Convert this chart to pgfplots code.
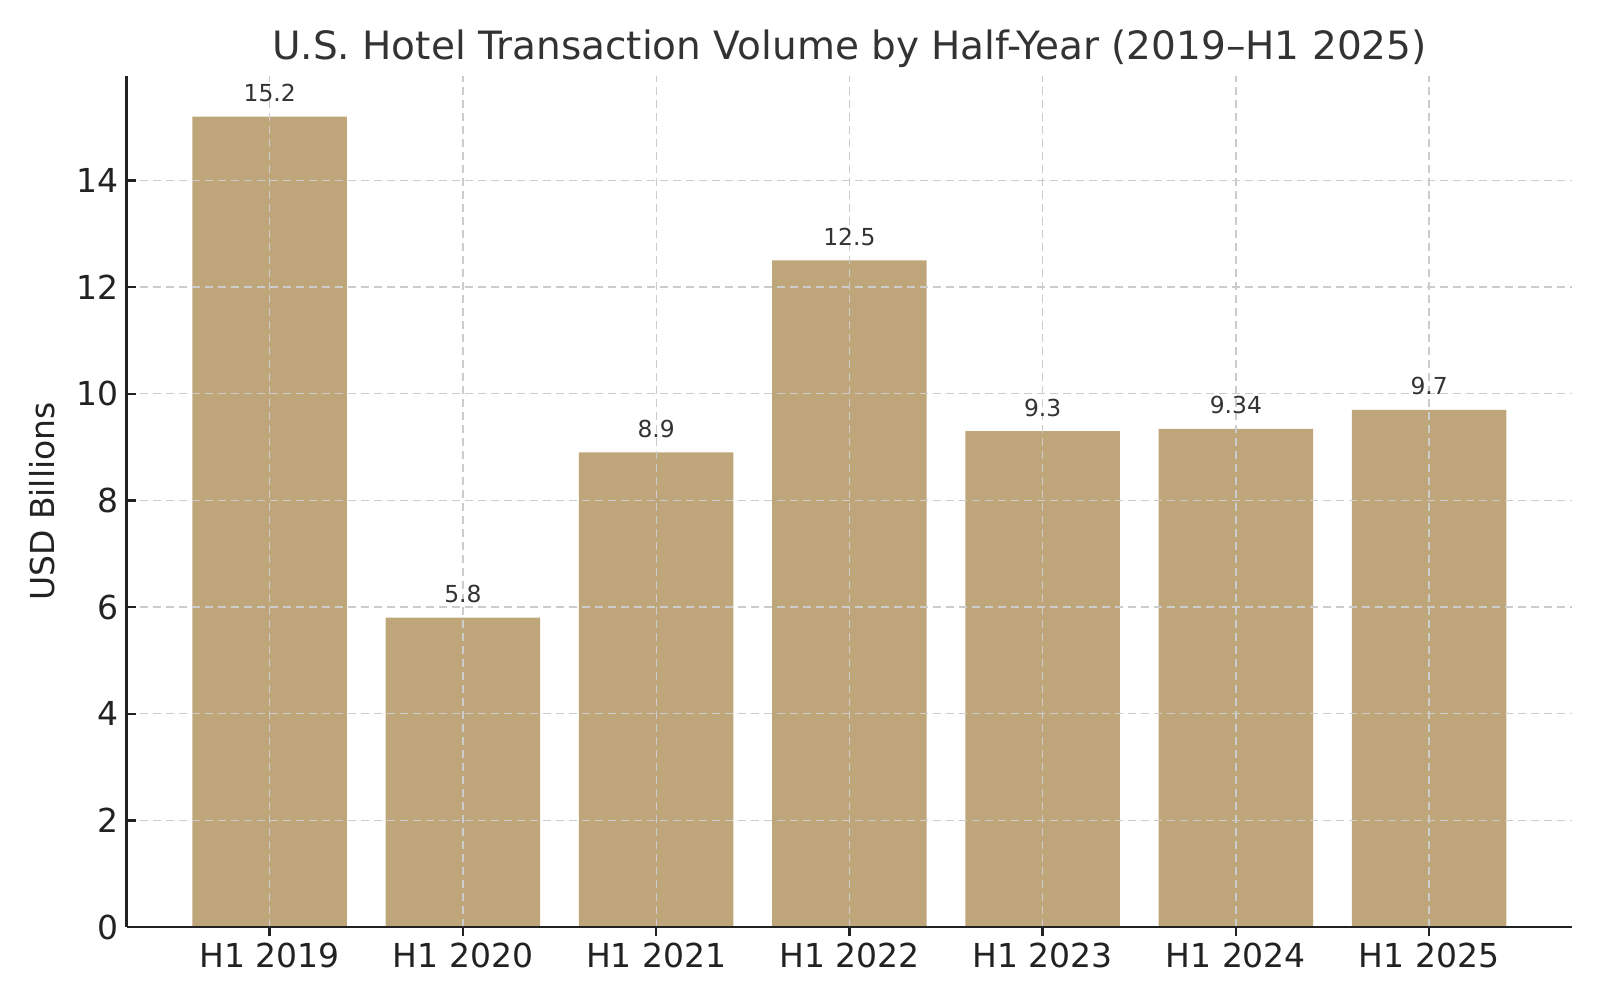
\documentclass[border=0pt]{standalone}
\usepackage{fontspec}
\setmainfont{DejaVu Sans}
\usepackage{pgfplots}
\pgfplotsset{compat=1.18}
\definecolor{barc}{HTML}{BFA67A}
\definecolor{txt}{HTML}{333333}
\definecolor{tk}{HTML}{222222}
\definecolor{gridc}{HTML}{CCCCCC}
\begin{document}
\begin{tikzpicture}
\useasboundingbox (-63.35pt,-36.5pt) rectangle (736.65pt,463.5pt);
\begin{axis}[
  scale only axis,
  width=722.7pt, height=425.5pt,
  at={(0,0)}, anchor=south west,
  xmin=-0.74, xmax=6.74, ymin=0, ymax=15.96,
  enlargelimits=false,
  axis x line=bottom, axis y line=left,
  axis line style={-, line width=1.3pt, color=tk},
  tick align=inside,
  major tick length=4.5pt,
  tick style={line width=1.2pt, color=tk},
  xtick={0,1,2,3,4,5,6},
  xticklabels={H1 2019,H1 2020,H1 2021,H1 2022,H1 2023,H1 2024,H1 2025},
  ytick={0,2,4,6,8,10,12,14},
  /pgf/number format/assume math mode=true,
  ticklabel style={font=\fontsize{16.5}{19}\selectfont, text=tk},
  yticklabel style={xshift=-0.6pt},
  grid=major,
  major grid style={color=gridc, line width=0.65pt, dash pattern=on 4pt off 2.5pt},
  axis on top,
  every axis title shift=0pt,
  title={U.S. Hotel Transaction Volume by Half-Year (2019–H1 2025)},
  title style={font=\fontsize{19.5}{23}\selectfont, text=txt, at={(axis description cs:0.5,1)}, anchor=base, yshift=8pt, inner sep=0pt},
  ylabel={USD Billions},
  ylabel style={font=\fontsize{16.5}{19}\selectfont, text=tk, at={(axis description cs:0,0.5)}, anchor=south, yshift=35.8pt, inner sep=0pt},
  ybar, bar width=0.8,
  nodes near coords,
  every node near coord/.append style={font=\fontsize{11.7}{14}\selectfont, text=txt, anchor=base, yshift=7.5pt, inner sep=0pt},
]
\addplot[fill=barc, draw=none] coordinates {(0,15.2) (1,5.8) (2,8.9) (3,12.5) (4,9.3) (5,9.34) (6,9.7)};
\end{axis}
\end{tikzpicture}
\end{document}
